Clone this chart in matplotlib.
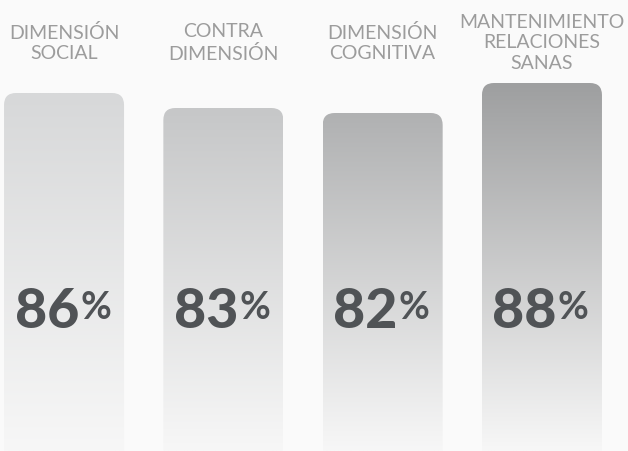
import numpy as np
import matplotlib
matplotlib.use("Agg")
import matplotlib.pyplot as plt
from matplotlib.patches import FancyBboxPatch
from matplotlib.colors import LinearSegmentedColormap
import matplotlib.transforms as mtransforms

categories = ["DIMENSIÓN\nSOCIAL", "CONTRA\nDIMENSIÓN", "DIMENSIÓN\nCOGNITIVA",
              "MANTENIMIENTO\nRELACIONES\nSANAS"]
values = [86, 83, 82, 88]
top_colors = ["#d7d8d9", "#c6c7c8", "#b0b1b2", "#9e9fa0"]
bottom_color = "#f7f7f7"
bg = "#fafafa"

fig = plt.figure(figsize=(6.28, 4.52), dpi=100, facecolor=bg)
ax = fig.add_axes([0, 0, 1, 1])
ax.set_facecolor(bg)
ax.set_xlim(-0.402, 3.540)
ax.set_ylim(14.4, 104.8)
ax.axis("off")

px_x = 628 / (3.540 + 0.402)
px_y = 452 / (104.8 - 14.4)
width = 120 / px_x
radius = 12 / px_x
aspect = px_x / px_y

grad = np.linspace(0, 1, 256).reshape(-1, 1)
trans = mtransforms.blended_transform_factory(ax.transData, ax.transAxes)

for i, (v, c) in enumerate(zip(values, top_colors)):
    x0 = i - width / 2
    patch = FancyBboxPatch((x0, 0), width, v,
                           boxstyle=f"round,pad=0,rounding_size={radius}",
                           mutation_aspect=aspect, linewidth=0,
                           facecolor="none", edgecolor="none")
    ax.add_patch(patch)
    cmap = LinearSegmentedColormap.from_list(f"g{i}", [bottom_color, c])
    im = ax.imshow(grad, cmap=cmap, aspect="auto", origin="lower",
                   extent=(x0, x0 + width, 14.4, v), interpolation="bilinear",
                   vmin=0, vmax=1)
    im.set_clip_path(patch)

    # label on top
    ax.text(i, 1 - 43 / 452, categories[i], transform=trans, ha="center",
            va="center", fontsize=14, color="#9c9c9c", family="Lato",
            fontweight="normal", linespacing=1.27)

    # value text
    off_d = mtransforms.offset_copy(trans, fig=fig, x=15 / 100 * 72, y=0, units="points")
    off_p = mtransforms.offset_copy(trans, fig=fig, x=16 / 100 * 72, y=0, units="points")
    ax.text(i, (452 - 328) / 452, f"{v}", transform=off_d, ha="right",
            va="baseline", fontsize=40, color="#505356", family="Lato",
            fontweight="black")
    ax.text(i, (452 - 319) / 452, "%", transform=off_p, ha="left",
            va="baseline", fontsize=27, color="#505356", family="Lato",
            fontweight="bold")

fig.savefig("out.png", dpi=100, facecolor=bg)
